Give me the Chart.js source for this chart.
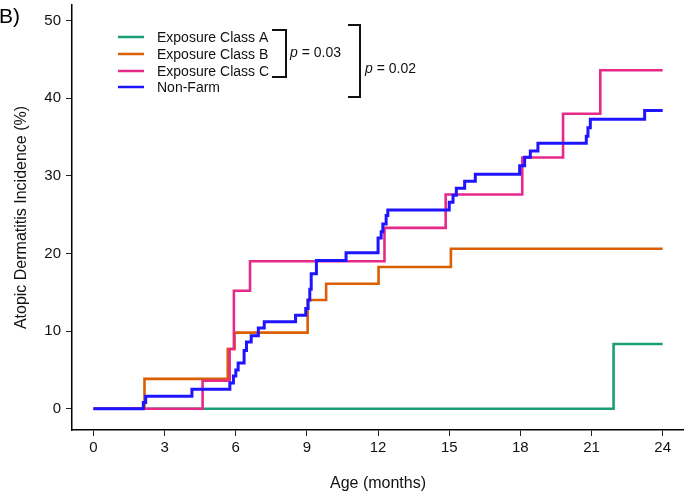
<!DOCTYPE html>
<html>
<head>
<meta charset="utf-8">
<script src="https://cdn.jsdelivr.net/npm/chart.js@4.4.1/dist/chart.umd.min.js"></script>
<style>
  html, body { margin: 0; padding: 0; background: #fff; }
  #wrap { width: 684px; height: 499px; position: relative; }
</style>
</head>
<body>
<div id="wrap"><canvas id="chartKM"></canvas></div>
<script>
//Ticks
const xTicks = [0, 3, 6, 9, 12, 15, 18, 21, 24];
const yTicks = [0, 10, 20, 30, 40, 50];

//Series (step points: time in months, cumulative incidence %)
const classA_t = [0, 21.93, 24];
const classA_v = [0, 8.33, 8.33];

const classB_t = [0, 2.15, 5.66, 5.95, 9.03, 9.81, 12.02, 15.07, 24];
const classB_v = [0, 3.85, 7.7, 9.8, 14.0, 16.1, 18.25, 20.6, 20.6];

const classC_t = [0, 4.6, 5.74, 5.92, 6.6, 12.27, 14.85, 18.08, 19.8, 21.37, 24];
const classC_v = [0, 3.6, 7.7, 15.2, 19.0, 23.3, 27.6, 32.35, 38.0, 43.6, 43.6];

const nonFarm_t = [0, 2.1, 2.2, 4.15, 5.75, 5.9, 6.0, 6.1, 6.35, 6.45, 6.65, 6.95, 7.2,
  8.52, 8.95, 9.05, 9.12, 9.18, 9.4, 10.65, 12.0, 12.13, 12.2, 12.34, 12.41,
  15.0, 15.16, 15.3, 15.65, 16.1, 17.97, 18.18, 18.42, 18.74, 20.78, 20.85, 20.95, 23.24, 24];
const nonFarm_v = [0, 0.8, 1.6, 2.5, 3.3, 4.2, 5.0, 5.9, 7.5, 8.6, 9.4, 10.4, 11.2,
  12.05, 12.9, 14.0, 15.4, 17.4, 19.1, 20.1, 22.0, 22.8, 23.8, 24.9, 25.6,
  26.6, 27.5, 28.4, 29.3, 30.2, 31.3, 32.4, 33.2, 34.2, 35.1, 36.2, 37.3, 38.4, 38.4];

const seriesLabels = ["Exposure Class A", "Exposure Class B", "Exposure Class C", "Non-Farm"];
const seriesColors = ["#1B9E77", "#D95F02", "#E7298A", "#1F14FF"];
const pLabels = ["0.03", "0.02"];

function toPoints(t, v) { return t.map((x, i) => ({ x: x, y: v[i] })); }

const FONT = "'Liberation Sans', Arial, sans-serif";

//Leyenda y anotaciones
const overlayPlugin = {
  id: "overlay",
  afterDraw(chart) {
    const ctx = chart.ctx;
    ctx.save();
    //B)
    ctx.fillStyle = "#000";
    ctx.font = "21px " + FONT;
    ctx.textBaseline = "alphabetic";
    ctx.textAlign = "left";
    ctx.fillText("B)", -1, 23);

    //legend
    const rows = [37, 54, 71, 87];
    ctx.font = "14px " + FONT;
    ctx.textBaseline = "middle";
    chart.data.datasets.forEach((ds, i) => {
      ctx.strokeStyle = ds.borderColor;
      ctx.lineWidth = 2.5;
      ctx.beginPath();
      ctx.moveTo(118, rows[i]);
      ctx.lineTo(144, rows[i]);
      ctx.stroke();
      ctx.fillStyle = "#111";
      ctx.fillText(ds.label, 157, rows[i] + 1);
    });

    //brackets
    ctx.strokeStyle = "#111";
    ctx.lineWidth = 2;
    ctx.beginPath();
    ctx.moveTo(272, 30); ctx.lineTo(286, 30); ctx.lineTo(286, 77); ctx.lineTo(272, 77);
    ctx.stroke();
    ctx.beginPath();
    ctx.moveTo(348, 25); ctx.lineTo(360, 25); ctx.lineTo(360, 97); ctx.lineTo(348, 97);
    ctx.stroke();

    function pText(x, y, val) {
      ctx.fillStyle = "#111";
      ctx.font = "italic 14px " + FONT;
      ctx.fillText("p", x, y);
      const w = ctx.measureText("p").width;
      ctx.font = "14px " + FONT;
      ctx.fillText(" = " + val, x + w, y);
    }
    pText(290, 53, pLabels[0]);
    pText(365, 69, pLabels[1]);
    ctx.restore();
  }
};

document.addEventListener("DOMContentLoaded", () => {
  const allT = [classA_t, classB_t, classC_t, nonFarm_t];
  const allV = [classA_v, classB_v, classC_v, nonFarm_v];
  const drawOrder = [4, 3, 2, 1];

  new Chart(document.getElementById("chartKM"), {
    type: "line",
    data: {
      datasets: seriesLabels.map((lab, i) => ({
        label: lab,
        data: toPoints(allT[i], allV[i]),
        borderColor: seriesColors[i],
        backgroundColor: seriesColors[i],
        borderWidth: i === 3 ? 3 : 2.6,
        stepped: "before",
        pointRadius: 0,
        fill: false,
        order: drawOrder[i]
      }))
    },
    options: {
      responsive: true, maintainAspectRatio: false,
      animation: false,
      layout: { padding: { top: 5, right: 0, left: 0, bottom: 0 } },
      plugins: { legend: { display: false }, tooltip: { enabled: false } },
      scales: {
        x: {
          type: "linear",
          min: -0.907, max: 24.9,
          afterBuildTicks: axis => { axis.ticks = xTicks.map(v => ({ value: v })); },
          afterFit: scale => { scale.height = 69; scale.paddingLeft = 0; scale.paddingRight = 0; },
          grid: { display: true, drawOnChartArea: false, drawTicks: true, tickLength: 6, color: "#222", lineWidth: 1 },
          border: { display: true, color: "#000", width: 1.5 },
          ticks: { color: "#111", font: { family: FONT, size: 15 }, padding: 3, maxRotation: 0, autoSkip: false },
          title: { display: true, text: "Age (months)", color: "#111", font: { family: FONT, size: 16 }, padding: { top: 18, bottom: 6 } }
        },
        y: {
          type: "linear",
          min: -2.74, max: 52.0,
          afterBuildTicks: axis => { axis.ticks = yTicks.map(v => ({ value: v })); },
          afterFit: scale => { scale.width = 72; scale.paddingTop = 0; scale.paddingBottom = 0; },
          grid: { display: true, drawOnChartArea: false, drawTicks: true, tickLength: 6, color: "#222", lineWidth: 1 },
          border: { display: true, color: "#000", width: 1.5 },
          ticks: { color: "#111", font: { family: FONT, size: 15 }, padding: 5 },
          title: { display: true, text: "Atopic Dermatitis Incidence (%)", color: "#111", font: { family: FONT, size: 16 }, padding: { top: 12, bottom: 4 } }
        }
      }
    },
    plugins: [overlayPlugin]
  });
});
</script>
</body>
</html>
